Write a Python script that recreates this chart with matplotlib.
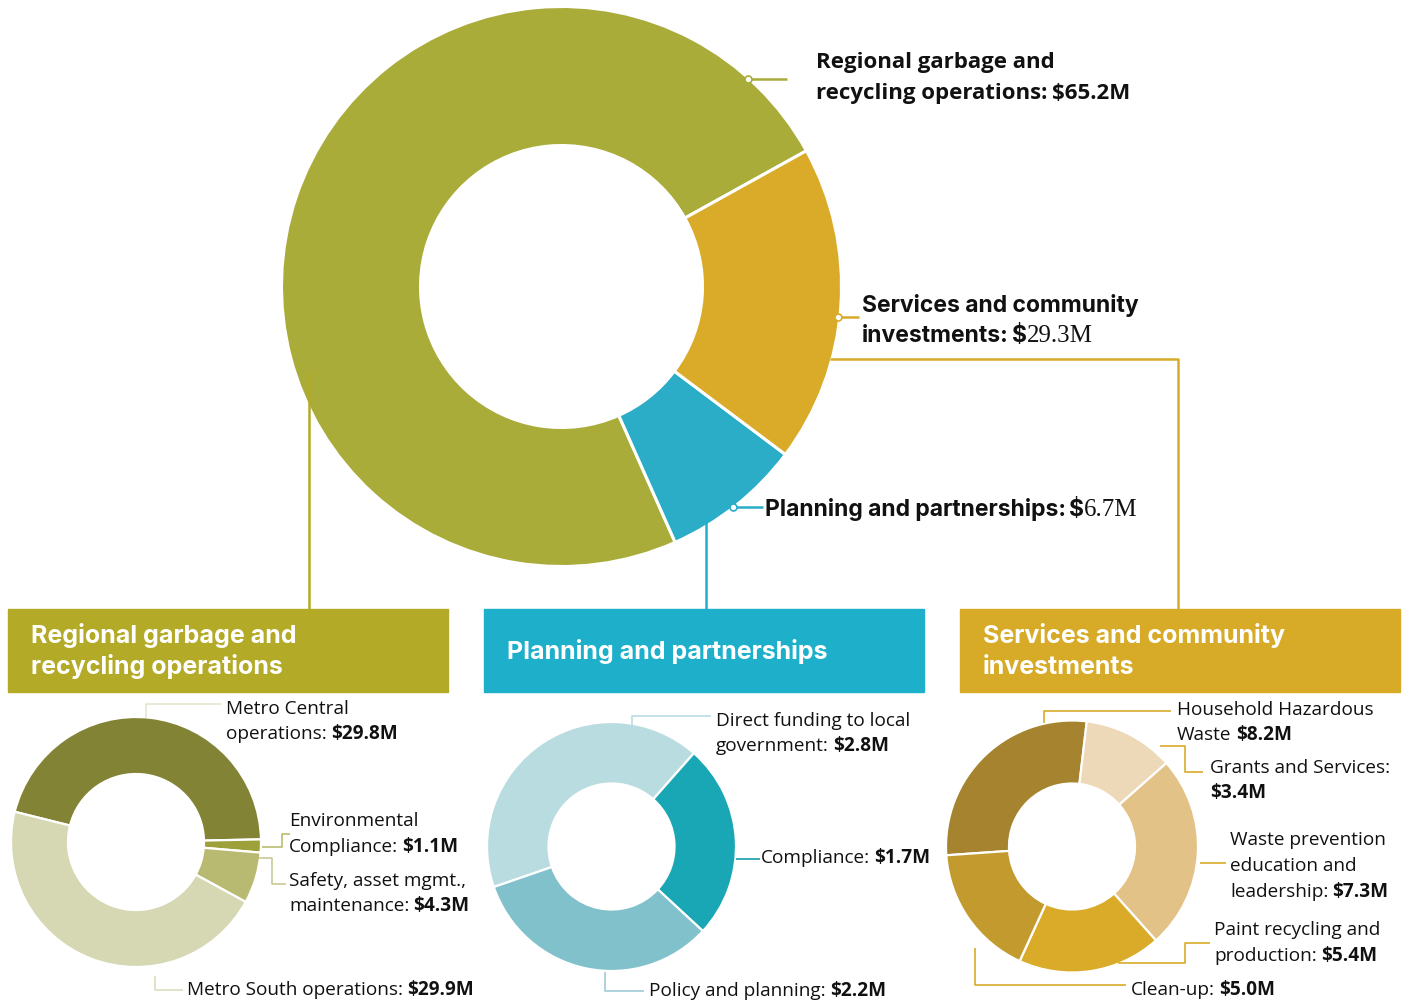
import matplotlib
matplotlib.use('Agg')
import matplotlib.pyplot as plt
from matplotlib.patches import Rectangle

W, H = 1413, 1001

# --- data -------------------------------------------------------------
main_names = ['Regional garbage and recycling operations',
              'Services and community investments',
              'Planning and partnerships']
main_amounts = [65.2, 29.3, 6.7]          # $M as printed in the labels
main_shares = [73.6, 18.3, 8.1]           # share of the ring as drawn (%)
main_colors = ['#AAAC3A', '#D9AB29', '#2BADC8']

garbage_names = ['Metro Central operations', 'Environmental Compliance',
                 'Safety, asset mgmt., maintenance', 'Metro South operations']
garbage_values = [29.8, 1.1, 4.3, 29.9]
garbage_colors = ['#828334', '#9EA03A', '#B9BA72', '#D6D7B3']

planning_names = ['Direct funding to local government', 'Compliance',
                  'Policy and planning']
planning_values = [2.8, 1.7, 2.2]
planning_colors = ['#B9DCE1', '#1AA7B5', '#80C1CB']

services_names = ['Household Hazardous Waste', 'Grants and Services',
                  'Waste prevention education and leadership',
                  'Paint recycling and production', 'Clean-up']
services_values = [8.2, 3.4, 7.3, 5.4, 5.0]
services_colors = ['#A6832F', '#EDD9B8', '#E2C287', '#D9AB29', '#C39A2E']

box_colors = ['#B3AA28', '#1EB0CB', '#D7AB27']


def Y(py):
    return H - py


fig = plt.figure(figsize=(W / 100, H / 100), dpi=100)
ax = fig.add_axes([0, 0, 1, 1])


def donut(values, colors, cx, cy, r_out, r_in, start, ccw, lw=1.6):
    ax.pie(values, colors=colors, center=(cx, Y(cy)), radius=r_out,
           startangle=start, counterclock=ccw,
           wedgeprops=dict(width=r_out - r_in, edgecolor='white',
                           linewidth=lw))


# main ring: green, blue, orange counter-clockwise from the 29 deg seam
order = [0, 2, 1]
donut([main_shares[i] for i in order], [main_colors[i] for i in order],
      561.5, 286.5, 280, 141, 29, True, lw=2.2)
donut(garbage_values, garbage_colors, 136, 842, 125, 68, 166, False)
donut(planning_values, planning_colors, 611.5, 846.5, 124.5, 63, 199, False)
donut(services_values, services_colors, 1072, 846.5, 126, 63, 184, False)

ax.set_xlim(0, W)
ax.set_ylim(0, H)
ax.set_aspect('equal')
ax.axis('off')


def poly(pts, color, lw=1.2, z=3):
    ax.plot([p[0] for p in pts], [Y(p[1]) for p in pts], color=color,
            lw=lw, solid_capstyle='butt', zorder=z)


# connectors from main ring to the section boxes
poly([(309, 372), (309, 609)], box_colors[0], lw=1.8)
poly([(706, 515), (706, 609)], box_colors[1], lw=1.8)
poly([(830, 359), (1178, 359), (1178, 609)], box_colors[2], lw=1.8)

# label leaders on the main ring
for (x0, x1, py), c in zip([(748, 787, 79), (838, 859, 317), (733, 763, 507)],
                           main_colors):
    poly([(x0, py), (x1, py)], c, lw=1.8)
    ax.plot(x0, Y(py), 'o', ms=5, mfc='white', mec=c, mew=1.2, zorder=4)

# section header boxes
titles = [['Regional garbage and', 'recycling operations'],
          ['Planning and partnerships'],
          ['Services and community', 'investments']]
for i, (bx, lines) in enumerate(zip([8, 484, 960], titles)):
    ax.add_patch(Rectangle((bx, Y(692)), 440, 83, color=box_colors[i],
                           zorder=2))
    bases = [643, 674] if len(lines) == 2 else [659]
    for txt, b in zip(lines, bases):
        ax.text(bx + 23, Y(b), txt, color='white', fontsize=18,
                family='Inter', weight='bold', va='baseline', zorder=5)

fig.canvas.draw()
renderer = fig.canvas.get_renderer()


def runs(x, py, parts, size=13.7, family='Open Sans', gap=0.22):
    # parts: (text, weight[, family, size]) drawn on one baseline
    for part in parts:
        txt, weight = part[0], part[1]
        fam = part[2] if len(part) > 2 else family
        sz = part[3] if len(part) > 3 else size
        t = ax.text(x, Y(py), txt.rstrip(), fontsize=sz, family=fam,
                    weight=weight, va='baseline', ha='left', color='#111111',
                    zorder=5)
        x += t.get_window_extent(renderer).width
        if txt.endswith(' '):
            x += gap * sz * 100 / 72


def money(v):
    return '${:.1f}M'.format(v)


# main ring labels
runs(816, 68, [('Regional garbage and', 'bold')], 16)
runs(816, 99, [('recycling operations: ', 'bold'),
               (money(main_amounts[0]), 'bold')], 16)
runs(862, 312, [('Services and community', 'bold')], 16.5, 'Inter')
runs(862, 342, [('investments: ', 'bold'), ('$', 'bold'),
                ('{:.1f}M'.format(main_amounts[1]), 'normal',
                 'Liberation Serif', 18)], 16.5, 'Inter', 0.14)
runs(765, 516, [('Planning and partnerships: ', 'bold'), ('$', 'bold'),
                ('{:.1f}M'.format(main_amounts[2]), 'normal',
                 'Liberation Serif', 18)], 16.5, 'Inter', 0.14)

# garbage and recycling sub-ring
poly([(146, 718), (146, 704), (221, 704)], '#E4E6CC')
runs(226, 714, [('Metro Central', 'normal')])
runs(226, 739, [('operations: ', 'normal'), (money(garbage_values[0]), 'bold')])
poly([(262, 847), (282, 847), (282, 834), (290, 834)], '#B9BC6E')
runs(289, 826, [('Environmental', 'normal')])
runs(289, 852, [('Compliance: ', 'normal'), (money(garbage_values[1]), 'bold')])
poly([(259, 858), (272, 858), (272, 884), (286, 884)], '#C8CA93')
runs(289, 886, [('Safety, asset mgmt.,', 'normal')])
runs(289, 911, [('maintenance: ', 'normal'), (money(garbage_values[2]), 'bold')])
poly([(155, 976), (155, 990), (183, 990)], '#DCDDC0')
runs(187, 995, [('Metro South operations: ', 'normal'),
                (money(garbage_values[3]), 'bold')])

# planning sub-ring
poly([(632, 725), (632, 716), (711, 716)], '#B9DCE1')
runs(716, 726, [('Direct funding to local', 'normal')])
runs(716, 751, [('government: ', 'normal'), (money(planning_values[0]), 'bold')])
poly([(736, 859), (760, 859)], '#1A9FAF')
runs(761, 863, [('Compliance: ', 'normal'), (money(planning_values[1]), 'bold')])
poly([(605, 972), (605, 991), (644, 991)], '#9FCBD3')
runs(649, 996, [('Policy and planning: ', 'normal'),
                (money(planning_values[2]), 'bold')])

# services sub-ring
gold = '#D9AB29'
poly([(1044, 723), (1044, 711), (1171, 711)], gold)
runs(1177, 715, [('Household Hazardous', 'normal')])
runs(1177, 740, [('Waste ', 'normal'), (money(services_values[0]), 'bold')])
poly([(1160, 746), (1185, 746), (1185, 772), (1203, 772)], gold)
runs(1210, 773, [('Grants and Services:', 'normal')])
runs(1210, 798, [(money(services_values[1]), 'bold')])
poly([(1200, 863), (1226, 863)], gold)
runs(1230, 845, [('Waste prevention', 'normal')])
runs(1230, 871, [('education and', 'normal')])
runs(1230, 897, [('leadership: ', 'normal'), (money(services_values[2]), 'bold')])
poly([(1118, 963), (1185, 963), (1185, 943), (1210, 943)], gold)
runs(1214, 935, [('Paint recycling and', 'normal')])
runs(1214, 961, [('production: ', 'normal'), (money(services_values[3]), 'bold')])
poly([(975, 948), (975, 985), (1126, 985)], gold)
runs(1131, 995, [('Clean-up: ', 'normal'), (money(services_values[4]), 'bold')])

fig.savefig('out.png', dpi=100)
